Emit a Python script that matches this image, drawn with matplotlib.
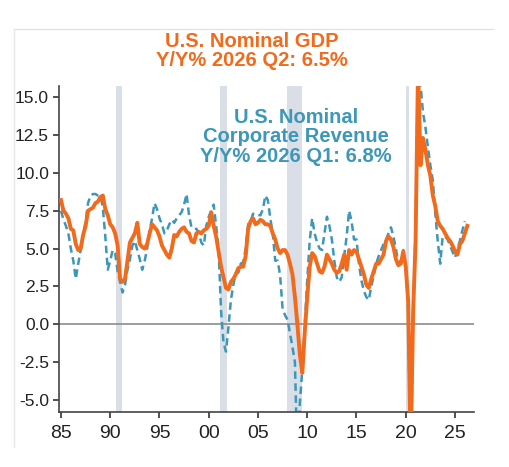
import matplotlib.pyplot as plt
import matplotlib.lines as mlines
import numpy as np
import pandas as pd

plt.switch_backend('Agg')
plt.rcParams['font.family'] = ['Liberation Sans', 'DejaVu Sans']

# Y/Y % change, quarterly, 1985 Q1 -> 2026 Q2 (one row per year)
gdp_yoy = [
    8.2, 7.5, 7.3, 7.0,    # 1985
    6.3, 6.2, 5.3, 4.9,    # 1986
    5.0, 5.9, 6.5, 7.5,    # 1987
    7.6, 7.7, 8.0, 8.1,    # 1988
    8.4, 8.5, 7.6, 7.2,    # 1989
    6.6, 6.4, 6.0, 5.2,    # 1990
    3.0, 2.8, 3.0, 4.2,    # 1991
    5.4, 5.7, 6.0, 6.7,    # 1992
    5.3, 5.1, 5.0, 5.3,    # 1993
    6.0, 6.6, 6.4, 6.2,    # 1994
    5.8, 5.2, 4.9, 4.6,    # 1995
    4.4, 5.0, 5.9, 5.8,    # 1996
    6.1, 6.3, 6.4, 6.1,    # 1997
    6.0, 5.5, 5.4, 6.0,    # 1998
    6.1, 6.0, 6.2, 6.3,    # 1999
    6.5, 7.4, 6.5, 5.8,    # 2000
    4.8, 3.8, 3.1, 2.4,    # 2001
    2.3, 2.8, 3.0, 3.3,    # 2002
    3.7, 3.8, 3.8, 4.5,    # 2003
    6.3, 6.8, 7.0, 6.6,    # 2004
    6.7, 6.9, 6.8, 6.6,    # 2005
    6.6, 6.5, 6.0, 5.6,    # 2006
    5.0, 4.7, 4.9, 4.9,    # 2007
    4.6, 4.0, 3.3, 1.8,    # 2008
    0.0, -2.0, -3.2, -0.5, # 2009
    1.8, 3.8, 4.7, 4.5,    # 2010
    4.0, 3.5, 3.4, 3.8,    # 2011
    4.6, 4.3, 4.0, 3.6,    # 2012
    3.4, 3.5, 4.0, 4.6,    # 2013
    3.6, 4.9, 4.6, 4.9,    # 2014
    4.8, 4.3, 3.8, 3.3,    # 2015
    2.6, 2.4, 3.0, 3.5,    # 2016
    4.0, 4.0, 4.3, 4.6,    # 2017
    5.5, 5.8, 5.6, 5.1,    # 2018
    4.3, 3.9, 4.0, 4.8,    # 2019
    3.8, 1.5, -8.5, 0.8,   # 2020
    5.5, 17.0, 10.5, 12.3, # 2021
    11.5, 10.5, 9.8, 8.5,  # 2022
    7.8, 6.8, 6.5, 6.3,    # 2023
    6.0, 5.7, 5.5, 5.2,    # 2024
    4.8, 4.6, 5.3, 5.5,    # 2025
    6.0, 6.5,              # 2026
]

revenue_yoy = [
    7.5, 6.9, 6.5, 6.0,    # 1985
    5.0, 4.2, 3.0, 4.0,    # 1986
    4.9, 5.8, 6.8, 8.0,    # 1987
    8.5, 8.6, 8.6, 8.5,    # 1988
    8.5, 7.7, 5.8, 3.6,    # 1989
    4.2, 4.9, 4.7, 3.5,    # 1990
    2.8, 2.1, 2.6, 3.6,    # 1991
    4.3, 5.2, 5.5, 4.9,    # 1992
    4.3, 3.6, 4.2, 5.0,    # 1993
    6.2, 7.0, 8.0, 7.6,    # 1994
    7.0, 6.6, 6.0, 6.2,    # 1995
    6.6, 6.9, 6.7, 7.0,    # 1996
    7.2, 7.4, 7.9, 8.6,    # 1997
    7.2, 6.4, 6.3, 6.3,    # 1998
    6.0, 5.4, 5.2, 6.5,    # 1999
    7.1, 7.5, 7.9, 6.5,    # 2000
    5.0, 0.9, -1.2, -1.8,  # 2001
    -0.2, 1.6, 2.6, 3.4,   # 2002
    3.4, 4.0, 4.1, 5.0,    # 2003
    6.6, 6.8, 7.3, 7.2,    # 2004
    7.2, 7.2, 7.6, 8.5,    # 2005
    8.2, 7.0, 6.0, 4.2,    # 2006
    4.2, 3.2, 1.0, 0.6,    # 2007
    0.3, -0.6, -1.5, -2.5, # 2008
    -9.0, -5.2, -3.0, 0.0, # 2009
    2.9, 5.5, 7.0, 6.0,    # 2010
    5.4, 5.0, 4.9, 6.0,    # 2011
    7.1, 6.5, 5.6, 4.2,    # 2012
    3.1, 2.8, 3.1, 4.5,    # 2013
    5.8, 7.5, 6.8, 5.6,    # 2014
    5.6, 4.0, 2.9, 2.2,    # 2015
    1.8, 1.6, 2.5, 3.2,    # 2016
    4.0, 4.5, 4.9, 5.3,    # 2017
    5.6, 6.0, 6.4, 5.8,    # 2018
    5.0, 4.0, 4.2, 4.9,    # 2019
    3.8, 1.0, -10.0, 0.5,  # 2020
    6.0, 18.0, 15.8, 14.0, # 2021
    13.0, 11.7, 10.5, 9.5, # 2022
    7.3, 5.5, 4.0, 5.8,    # 2023
    5.8, 5.6, 5.2, 4.8,    # 2024
    4.4, 5.0, 5.5, 6.2,    # 2025
    6.8,                   # 2026
]

# NBER recessions (start, end) in decimal years
recessions = [(1990.55, 1991.2), (2001.15, 2001.9), (2007.9, 2009.5), (2020.05, 2020.35)]

x_ticks = [1985, 1990, 1995, 2000, 2005, 2010, 2015, 2020, 2025]
x_labels = ['85', '90', '95', '00', '05', '10', '15', '20', '25']
y_ticks = [-5.0, -2.5, 0.0, 2.5, 5.0, 7.5, 10.0, 12.5, 15.0]

orange = '#F26A1B'
blue = '#3D97B8'

q_gdp = pd.period_range('1985Q1', periods=len(gdp_yoy), freq='Q')
q_rev = pd.period_range('1985Q1', periods=len(revenue_yoy), freq='Q')
t_gdp = q_gdp.year + (q_gdp.quarter - 1) / 4
t_rev = q_rev.year + (q_rev.quarter - 1) / 4

fig = plt.figure(figsize=(5.1, 4.67), dpi=100)
ax = fig.add_axes([59.5 / 510, 55 / 467, (474 - 59.5) / 510, (412 - 86) / 467])

for start, end in recessions:
    ax.axvspan(start, end, color='#D9DEE7', lw=0, zorder=0)

ax.axhline(0, color='#8C8C8C', lw=1.2, zorder=1)
ax.plot(t_rev, revenue_yoy, color=blue, lw=1.8, ls=(0, (3, 1.8)), zorder=2)
ax.plot(t_gdp, gdp_yoy, color=orange, lw=2.8, zorder=3)

ax.set_xlim(1984.85, 2026.93)
ax.set_ylim(-5.79, 15.73)
ax.set_xticks(x_ticks)
ax.set_xticklabels(x_labels)
ax.set_yticks(y_ticks)
ax.set_yticklabels([f'{v:.1f}' for v in y_ticks])
ax.tick_params(direction='out', length=4, width=1.2, color='#333333',
               labelcolor='#222222')
ax.tick_params(axis='x', labelsize=14, pad=5)
ax.tick_params(axis='y', labelsize=12.5, pad=3.5)
for side in ['top', 'right']:
    ax.spines[side].set_visible(False)
for side in ['left', 'bottom']:
    ax.spines[side].set_color('#444444')
    ax.spines[side].set_linewidth(1.2)

fig.text(252 / 510, 1 - 51 / 467, 'U.S. Nominal GDP\nY/Y% 2026 Q2: 6.5%',
         color=orange, fontsize=14.5, fontweight='bold', ha='center', va='center',
         linespacing=1.05)
ax.text(296 / 510, 1 - 137 / 467, 'U.S. Nominal\nCorporate Revenue\nY/Y% 2026 Q1: 6.8%',
        transform=fig.transFigure, color=blue, fontsize=14.5, fontweight='bold',
        ha='center', va='center', linespacing=1.05, zorder=5)

# light card border (top and left edges)
fig.add_artist(mlines.Line2D([14 / 510, 493 / 510], [1 - 29 / 467, 1 - 29 / 467],
                             color='#E3E3E3', lw=1))
fig.add_artist(mlines.Line2D([14 / 510, 14 / 510], [1 - 29 / 467, 1 - 447 / 467],
                             color='#E8E8E8', lw=1))

plt.savefig('out.png', dpi=100)
plt.close()
